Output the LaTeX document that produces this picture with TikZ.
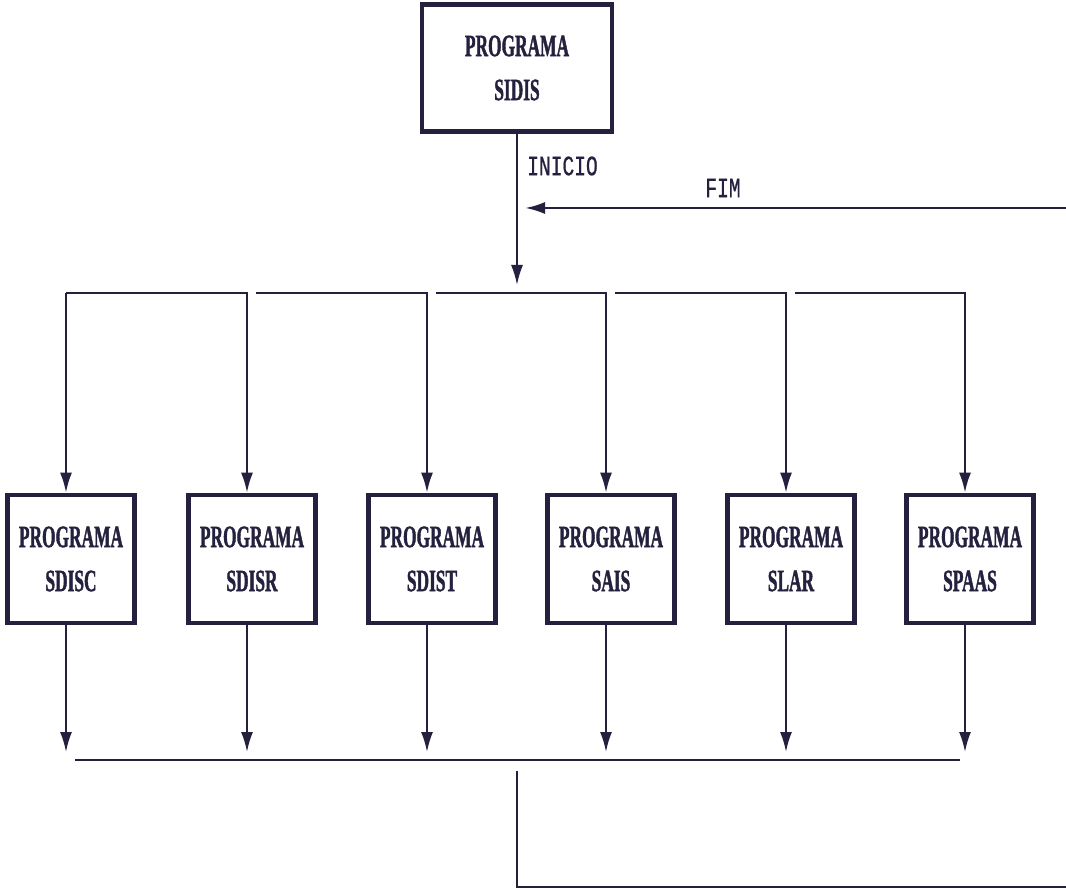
\documentclass[tikz,border=0pt]{standalone}
\usepackage{fontspec}
\usetikzlibrary{arrows.meta}
\newfontfamily\boxfont{Liberation Serif}[FakeStretch=0.56,FakeBold=1.2]
\newfontfamily\labfont{Liberation Mono}[FakeStretch=0.70,FakeBold=0.6]
\definecolor{ink}{RGB}{36,33,62}

\tikzset{
  prog/.style={draw=ink, line width=4.8pt, minimum width=127pt, minimum height=128pt,
    inner sep=0pt, align=center, text=ink,
    font={\boxfont\bfseries\fontsize{31}{44}\selectfont}},
  wire/.style={draw=ink, line width=2pt},
  arr/.style={wire, -{Latex[length=20pt,width=12pt]}},
  lab/.style={text=ink, inner sep=0pt, font={\labfont\fontsize{28}{30}\selectfont}},
}

\begin{document}
\begin{tikzpicture}[x=1pt,y=-1pt]
\useasboundingbox (0,0) rectangle (1066,890);
\fill[white] (0,0) rectangle (1066,890);

% main program
\node[prog, minimum width=190pt, minimum height=127pt] (sidis) at (517,68) {PROGRAMA\\SIDIS};

% sub-programs
\node[prog] (sdisc) at (71,559)  {PROGRAMA\\SDISC};
\node[prog] (sdisr) at (252,559) {PROGRAMA\\SDISR};
\node[prog] (sdist) at (432,559) {PROGRAMA\\SDIST};
\node[prog] (sais)  at (611,559) {PROGRAMA\\SAIS};
\node[prog] (slar)  at (791,559) {PROGRAMA\\SLAR};
\node[prog] (spaas) at (970,559) {PROGRAMA\\SPAAS};

% entry points of the drops, slightly left of each box centre
\foreach \p in {sdisc,sdisr,sdist,sais,slar,spaas}{
  \coordinate (\p-in)  at ([xshift=-5pt]\p.north);
  \coordinate (\p-out) at ([xshift=-5pt]\p.south);
}

% reference levels
\coordinate (hub) at (0,285);
\coordinate (bus) at (0,293);
\coordinate (fimR) at (1066,208);
\coordinate (tips) at (0,752);
\coordinate (cl) at (75,760);
\coordinate (cr) at (960,760);
\coordinate (r0) at (517,771);
\coordinate (r1) at (517,887);
\coordinate (r2) at (1066,887);

% start and end of the cycle
\draw[arr] (sidis.south) -- (sidis.south |- hub);
\node[lab, anchor=west] (inicio) at (527,166) {INICIO};
\draw[arr, line width=2.6pt] (fimR) -- ([xshift=8pt]sidis.south |- fimR);
\node[lab] (fim) at (723,188) {FIM};

% distribution bus
\draw[arr] (sdisc-in |- bus) -- (sdisc-in);
\draw[arr] (sdisc-in |- bus) -- (sdisr-in |- bus) -- (sdisr-in);
\draw[arr] ([xshift=9pt]sdisr-in |- bus) -- (sdist-in |- bus) -- (sdist-in);
\draw[arr] ([xshift=9pt]sdist-in |- bus) -- (sais-in |- bus) -- (sais-in);
\draw[arr] ([xshift=9pt]sais-in |- bus) -- (slar-in |- bus) -- (slar-in);
\draw[arr] ([xshift=9pt]slar-in |- bus) -- (spaas-in |- bus) -- (spaas-in);

% outputs to the collecting line
\foreach \p in {sdisc,sdisr,sdist,sais,slar,spaas}
  \draw[arr] (\p-out) -- (\p-out |- tips);
\draw[wire, line width=2.8pt] (cl) -- (cr);

% return path
\draw[wire, line width=2.4pt] (r0) -- (r1) -- (r2);
\end{tikzpicture}
\end{document}
